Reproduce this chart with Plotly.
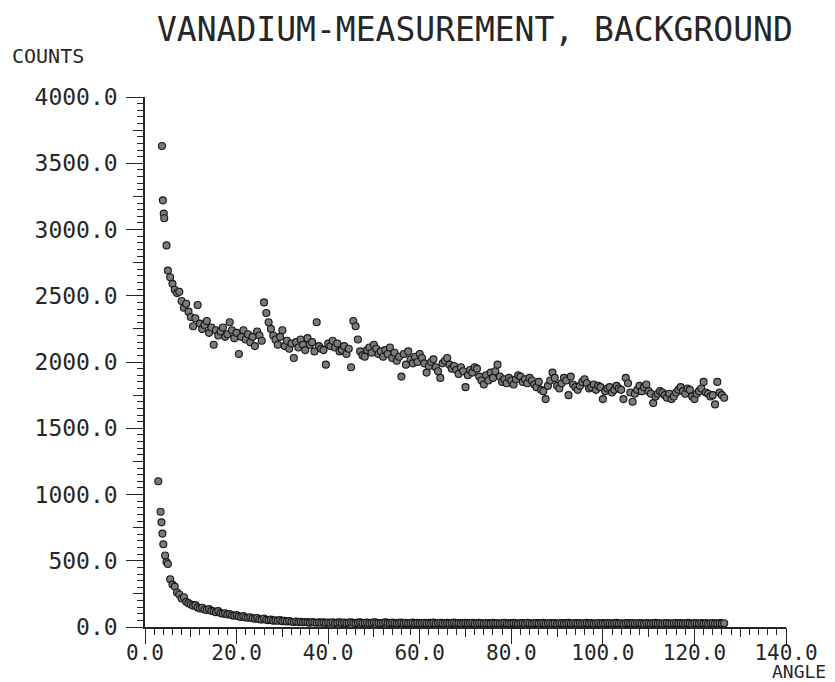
import numpy as np
import plotly.graph_objects as go

# ---------------- data ----------------
ANGLE_START = 5.5
ANGLE_STEP = 0.5

# first (steep) points, read individually
vanadium_head_angle = [3.7, 3.9, 4.1, 4.2, 4.7, 5.0]
vanadium_head_counts = [3630, 3220, 3120, 3085, 2880, 2690]

background_head_angle = [2.9, 3.4, 3.6, 3.8, 4.0, 4.4, 4.7, 5.0]
background_head_counts = [1100, 870, 790, 705, 625, 540, 490, 475]

# regular grid part (5.5 ... 126.5, step 0.5)
vanadium_counts = [
    2640, 2590, 2545, 2520, 2530, 2460, 2410, 2440, 2380, 2340,
    2270, 2330, 2430, 2290, 2250, 2280, 2310, 2220, 2260, 2130,
    2240, 2200, 2230, 2260, 2190, 2210, 2300, 2240, 2180, 2220,
    2060, 2190, 2240, 2170, 2210, 2150, 2190, 2120, 2230, 2200,
    2160, 2450, 2370, 2300, 2250, 2200, 2170, 2130, 2190, 2240,
    2120, 2160, 2100, 2140, 2030, 2150, 2110, 2170, 2130, 2090,
    2180, 2130, 2150, 2080, 2300, 2120, 2100, 2090, 1980, 2140,
    2120, 2160, 2110, 2140, 2080, 2090, 2120, 2060, 2100, 1960,
    2310, 2270, 2170, 2080, 2050, 2040, 2090, 2110, 2070, 2130,
    2100, 2060, 2080, 2040, 2090, 2060, 2110, 2030, 2070, 2010,
    2040, 1890, 2060, 1980, 2080, 2020, 1990, 2040, 2000, 2060,
    2030, 1990, 1920, 1970, 2000, 2020, 1960, 1930, 1880, 1990,
    2010, 2030, 1980, 1950, 1970, 1940, 1910, 1960, 1930, 1810,
    1900, 1940, 1920, 1960, 1950, 1890, 1860, 1830, 1900, 1860,
    1920, 1880, 1930, 1980, 1890, 1850, 1870, 1840, 1880, 1860,
    1830, 1870, 1900, 1890, 1850, 1870, 1840, 1880, 1860, 1830,
    1810, 1850, 1790, 1780, 1720, 1820, 1860, 1920, 1880, 1820,
    1800, 1840, 1880, 1860, 1750, 1890, 1830, 1810, 1790, 1820,
    1850, 1870, 1840, 1800, 1810, 1830, 1790, 1820, 1810, 1720,
    1780, 1800, 1810, 1770, 1790, 1820, 1800, 1790, 1720, 1880,
    1840, 1770, 1700, 1760, 1790, 1820, 1780, 1810, 1830, 1780,
    1760, 1690, 1740, 1760, 1780, 1770, 1750, 1730, 1760, 1720,
    1740, 1770, 1790, 1810, 1780, 1760, 1800, 1790, 1740, 1720,
    1760, 1780, 1800, 1850, 1770, 1760, 1740, 1750, 1680, 1850,
    1770, 1750, 1730,
]

background_counts = [
    360, 320, 305, 260, 245, 215, 225, 190, 180, 170,
    160, 165, 148, 140, 145, 132, 128, 135, 122, 118,
    112, 120, 105, 100, 104, 94, 98, 88, 85, 90,
    80, 76, 82, 72, 70, 74, 66, 62, 68, 58,
    56, 64, 54, 52, 56, 48, 50, 47, 52, 44,
    46, 42, 45, 40, 38, 42, 37, 40, 36, 38,
    35, 33, 37, 34, 32, 36, 33, 35, 31, 34,
    32, 36, 30, 33, 35, 31, 34, 30, 33, 36,
    32, 29, 33, 35, 30, 32, 34, 29, 31, 36,
    33, 30, 28, 32, 35, 31, 29, 33, 30, 27,
    31, 34, 29, 32, 28, 30, 33, 29, 31, 27,
    30, 32, 28, 31, 29, 33, 27, 30, 32, 28,
    29, 31, 27, 30, 33, 28, 30, 26, 29, 31,
    28, 30, 32, 27, 29, 31, 28, 26, 30, 29,
    27, 31, 29, 28, 26, 30, 32, 28, 27, 29,
    31, 28, 26, 29, 30, 27, 32, 28, 26, 29,
    30, 27, 29, 31, 26, 28, 30, 27, 29, 25,
    28, 30, 27, 29, 31, 26, 28, 30, 27, 29,
    26, 28, 31, 27, 29, 25, 28, 30, 26, 29,
    27, 30, 28, 26, 29, 31, 27, 28, 25, 29,
    30, 27, 29, 26, 28, 30, 27, 25, 29, 28,
    26, 29, 31, 27, 28, 25, 29, 30, 27, 26,
    28, 30, 27, 29, 26, 28, 31, 27, 25, 29,
    28, 26, 30, 27, 29, 25, 28, 30, 27, 26,
    29, 27, 28,
]

x_ticks = [0, 20, 40, 60, 80, 100, 120, 140]
y_ticks = [0, 500, 1000, 1500, 2000, 2500, 3000, 3500, 4000]
title_text = "VANADIUM-MEASUREMENT, BACKGROUND"
x_label = "ANGLE"
y_label = "COUNTS"

# ---------------- figure ----------------
grid_angle = ANGLE_START + ANGLE_STEP * np.arange(len(vanadium_counts))

FONT = "DejaVu Sans Mono"
INK = "#262626"

marker = dict(symbol="circle", size=7, color="#7a7a7a",
              line=dict(color="#161616", width=1.1))

fig = go.Figure()
fig.add_trace(go.Scatter(
    x=list(vanadium_head_angle) + list(grid_angle),
    y=list(vanadium_head_counts) + list(vanadium_counts),
    mode="markers", marker=marker, showlegend=False))
fig.add_trace(go.Scatter(
    x=list(background_head_angle) + list(grid_angle),
    y=list(background_head_counts) + list(background_counts),
    mode="markers", marker=marker, showlegend=False))

axis_common = dict(showgrid=False, zeroline=False, showline=True,
                   linecolor=INK, linewidth=1.5, ticks="outside",
                   tickcolor=INK, tickwidth=1.3)

# the page body adds an 8px offset; compensate so the plot area lands at
# x 145..786, y 97..627 of the 835x682 window
OFF = 8
fig.update_layout(
    width=835 - OFF, height=682 - OFF,
    margin=dict(l=145 - OFF, r=49, t=97 - OFF, b=55, autoexpand=False),
    paper_bgcolor="white", plot_bgcolor="white",
    xaxis=dict(range=[0, 140], tickvals=x_ticks,
               ticktext=[f"{v:.1f}" for v in x_ticks], ticklen=15,
               ticklabelstandoff=-9,
               tickfont=dict(family=FONT, size=21, color=INK),
               minor=dict(dtick=2, ticklen=6, ticks="outside",
                          tickcolor=INK, tickwidth=1.1, showgrid=False),
               **axis_common),
    yaxis=dict(range=[0, 4000], tickvals=y_ticks,
               ticktext=[f"{v:.1f}" for v in y_ticks], ticklen=17,
               ticklabelstandoff=4,
               tickfont=dict(family=FONT, size=23, color=INK),
               minor=dict(dtick=50, ticklen=6, ticks="outside",
                          tickcolor=INK, tickwidth=1.1, showgrid=False),
               **axis_common),
    # medium ticks (half-way marks)
    xaxis2=dict(overlaying="x", range=[0, 140], dtick=10, ticks="outside",
                ticklen=9, tickcolor=INK, tickwidth=1.1, showticklabels=False,
                showgrid=False, zeroline=False, showline=False, side="bottom"),
    yaxis2=dict(overlaying="y", range=[0, 4000], dtick=250, ticks="outside",
                ticklen=11, tickcolor=INK, tickwidth=1.1, showticklabels=False,
                showgrid=False, zeroline=False, showline=False, side="left"),
)

# invisible trace so that the overlay axes are drawn
fig.add_trace(go.Scatter(x=[None], y=[None], xaxis="x2", yaxis="y2",
                         mode="markers", showlegend=False, hoverinfo="skip"))

fig.add_annotation(text=title_text, xref="paper", yref="paper",
                   x=(475 - 145) / 641, y=(627 - 29) / 530, xanchor="center",
                   yanchor="middle", showarrow=False,
                   font=dict(family=FONT, size=33, color=INK))
fig.add_annotation(text=y_label, xref="paper", yref="paper",
                   x=(10 - 145) / 641, y=(627 - 56) / 530, xanchor="left",
                   yanchor="middle", showarrow=False,
                   font=dict(family=FONT, size=20, color=INK))
fig.add_annotation(text=x_label, xref="paper", yref="paper",
                   x=(828 - 145) / 641, y=(627 - 671) / 530, xanchor="right",
                   yanchor="middle", showarrow=False,
                   font=dict(family=FONT, size=18, color=INK))

fig.write_html("out.html")
